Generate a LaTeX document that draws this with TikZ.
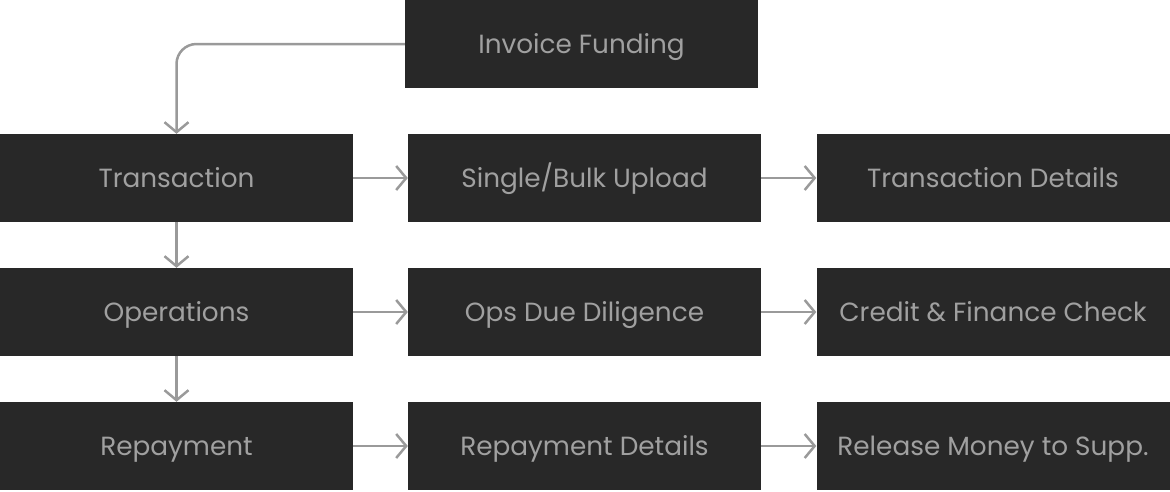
\documentclass[tikz,border=0pt]{standalone}
\usepackage{fontspec}
\setmainfont{Poppins}
\usetikzlibrary{arrows.meta}
\definecolor{boxfill}{HTML}{282828}
\definecolor{boxtext}{HTML}{A0A0A0}
\definecolor{linkgray}{HTML}{9A9A9A}
\begin{document}
\begin{tikzpicture}[x=1pt, y=-1pt,
    stage/.style = {fill=boxfill, text=boxtext, minimum width=353pt, minimum height=88pt, inner sep=0pt, text height=18.4pt, text depth=0pt, font=\fontsize{26.3}{31}\selectfont},
    link/.style = {draw=linkgray, line width=2.5pt, -{Straight Barb[length=10pt, width=24pt]}}]
    \useasboundingbox (0,0) rectangle (1170,491);
    \node[stage] (inv) at (581.5,44) {Invoice Funding};
    \node[stage] (tr) at (176.5,178) {Transaction};
    \node[stage] (up) at (584.5,178) {Single/Bulk Upload};
    \node[stage] (td) at (993,178) {Transaction Details};
    \node[stage] (op) at (176.5,312) {Operations};
    \node[stage] (dd) at (584.5,312) {Ops Due Diligence};
    \node[stage] (cf) at (993,312) {Credit \& Finance Check};
    \node[stage] (rp) at (176.5,446) {Repayment};
    \node[stage] (rd) at (584.5,446) {Repayment Details};
    \node[stage] (rm) at (993,446) {Release Money to Supp.};
    \draw[link, rounded corners=20pt] (inv.west) -| (tr.north);
    \draw[link] (tr) -- (up);
    \draw[link] (up) -- (td);
    \draw[link] (op) -- (dd);
    \draw[link] (dd) -- (cf);
    \draw[link] (rp) -- (rd);
    \draw[link] (rd) -- (rm);
    \draw[link] (tr) -- (op);
    \draw[link] (op) -- (rp);
\end{tikzpicture}
\end{document}
